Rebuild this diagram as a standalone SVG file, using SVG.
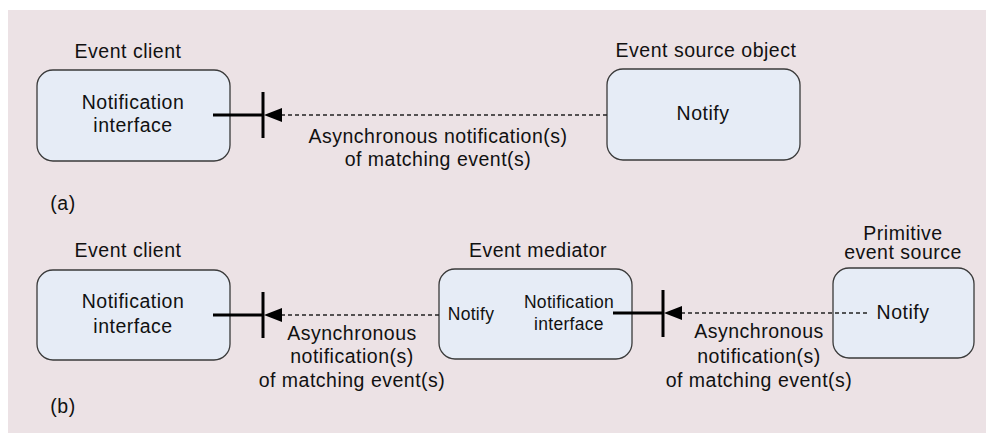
<svg xmlns="http://www.w3.org/2000/svg" width="986" height="435" viewBox="0 0 986 435">
  <defs>
    <style>
      text { font-family: "Liberation Sans", Arial, sans-serif; fill: #111; }
      .t { font-size: 19.5px; text-anchor: middle; letter-spacing: 0.5px; }
      .s { font-size: 17.5px; text-anchor: middle; letter-spacing: 0.3px; }
      .box { fill: #e6ecf6; stroke: #3a3a3a; stroke-width: 1.3; }
      .stub { stroke: #000; stroke-width: 3; fill: none; }
      .dash { stroke: #222; stroke-width: 1.3; stroke-dasharray: 4 3; fill: none; }
    </style>
    <!-- filled triangle at the receiving end of a notification -->
    <marker id="head" viewBox="0 0 18 14" refX="18" refY="7" markerWidth="18" markerHeight="14" markerUnits="userSpaceOnUse" orient="auto">
      <path d="M0,0 L18,7 L0,14 Z" fill="#000"/>
    </marker>
  </defs>

  <rect x="8" y="10" width="978" height="423" fill="#ece2e5"/>

  <!-- (a) direct notification -->
  <g id="client-a">
    <text class="t" x="128" y="58">Event client</text>
    <rect class="box" x="37" y="70" width="193" height="91" rx="16"/>
    <text class="t" x="133" y="109">Notification</text>
    <text class="t" x="133" y="132">interface</text>
  </g>
  <g id="source-a">
    <text class="t" x="706" y="57">Event source object</text>
    <rect class="box" x="607" y="69" width="193" height="91" rx="16"/>
    <text class="t" x="703" y="120">Notify</text>
  </g>
  <text class="t" x="63" y="210">(a)</text>

  <!-- (b) notification through a mediator -->
  <g id="client-b">
    <text class="t" x="128" y="257">Event client</text>
    <rect class="box" x="37" y="270" width="193" height="90" rx="16"/>
    <text class="t" x="133" y="308">Notification</text>
    <text class="t" x="133" y="333">interface</text>
  </g>
  <g id="mediator">
    <text class="t" x="538" y="257">Event mediator</text>
    <rect class="box" x="439" y="269" width="193" height="90" rx="16"/>
    <text class="s" x="471" y="320">Notify</text>
    <text class="s" x="569" y="308">Notification</text>
    <text class="s" x="569" y="330">interface</text>
  </g>
  <g id="primitive">
    <text class="t" x="903" y="240">Primitive</text>
    <text class="t" x="903" y="259">event source</text>
    <rect class="box" x="833" y="268" width="141" height="90" rx="16"/>
    <text class="t" x="903" y="319">Notify</text>
  </g>
  <text class="t" x="63" y="413">(b)</text>

  <g id="connectors">
    <!-- (a) source to client -->
    <line class="stub" x1="213" y1="115" x2="263" y2="115"/>
    <line class="stub" x1="263" y1="92" x2="263" y2="138"/>
    <line class="dash" x1="607" y1="115" x2="264" y2="115" marker-end="url(#head)"/>
    <text class="t" x="438" y="143">Asynchronous notification(s)</text>
    <text class="t" x="438" y="166">of matching event(s)</text>

    <!-- (b) mediator to client -->
    <line class="stub" x1="213" y1="315" x2="263" y2="315"/>
    <line class="stub" x1="263" y1="292" x2="263" y2="338"/>
    <line class="dash" x1="439" y1="315" x2="264" y2="315" marker-end="url(#head)"/>
    <text class="t" x="352" y="340">Asynchronous</text>
    <text class="t" x="352" y="363">notification(s)</text>
    <text class="t" x="352" y="387">of matching event(s)</text>

    <!-- (b) primitive source to mediator -->
    <line class="stub" x1="613" y1="313" x2="663" y2="313"/>
    <line class="stub" x1="663" y1="290" x2="663" y2="337"/>
    <line class="dash" x1="867" y1="313" x2="664" y2="313" marker-end="url(#head)"/>
    <text class="t" x="759" y="338">Asynchronous</text>
    <text class="t" x="759" y="363">notification(s)</text>
    <text class="t" x="759" y="387">of matching event(s)</text>
  </g>
</svg>
